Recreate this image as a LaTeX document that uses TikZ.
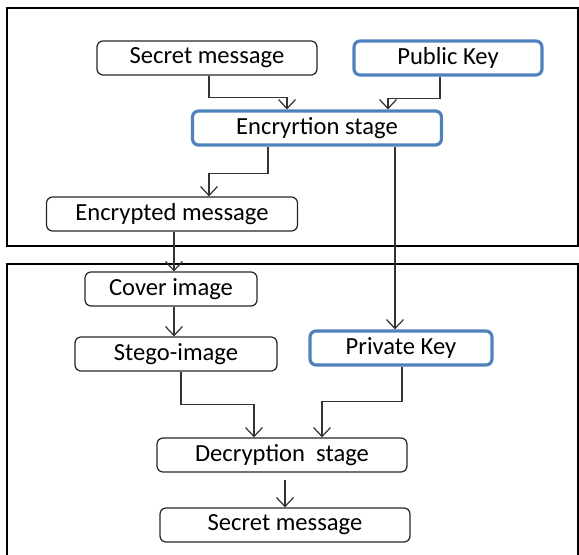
\documentclass[tikz,border=0pt]{standalone}
\usepackage{fontspec}
\setmainfont{Carlito}
\usepackage{tikz}
\usetikzlibrary{calc}
\usetikzlibrary{arrows.meta}
\definecolor{keyblue}{RGB}{79,129,189}

\begin{document}
\begin{tikzpicture}[x=0.02cm, y=-0.02cm,
		box/.style={draw=black!85, rounded corners=0.12cm, line width=0.7pt, minimum height=0.68cm, font=\fontsize{14}{16}\selectfont, inner sep=0pt},
		keybox/.style={box, draw=keyblue, line width=1.8pt},
		link/.style={draw=black!80, line width=0.7pt, -{Straight Barb[length=0.18cm,width=0.34cm]}}]
				\useasboundingbox (0,0) rectangle (579,555);
				\clip (0,0) rectangle (579,555);
				
				% the two frames
				\draw[line width=0.6pt] (7,8) rectangle (578,246);
				\draw[line width=0.6pt] (7,565) -- (7,264) -- (578,264) -- (578,565);
				
				\node[box, minimum width=4.4cm] (S) at (207,58) {Secret message};
				\node[keybox, minimum width=3.76cm] (PU) at (448,58) {Public Key};
				\node[keybox, minimum width=4.98cm] (E) at (317,128) {Encryrtion stage};
				\node[box, minimum width=5.02cm] (EM) at (172,214) {Encrypted message};
				
				\node[box, minimum width=3.44cm] (C) at (171,289) {Cover image};
				\node[box, minimum width=4.04cm] (SI) at (176,354) {Stego-image};
				\node[keybox, minimum width=3.64cm] (PR) at (401,348) {Private Key};
				\node[box, minimum width=5cm] (D) at (282,455) {Decryption~ stage};
				\node[box, minimum width=5cm] (M) at (285,525) {Secret message};
				
				\draw[link] ($(S.south)+(2,0)$) -- ++(0,22) -| ($(E.north)+(-30,0)$);
				\draw[link] ($(PU.south)+(-8,0)$) -- ++(0,22) -| ($(E.north)+(71,0)$);
				\draw[link] ($(E.south)+(-49,0)$) -- ++(0,27) -| ($(EM.north)+(37,0)$);
				\draw[link] ($(EM.south)+(2,0)$) -- ($(C.north)+(3,0)$);
				\draw[link] ($(E.south)+(78,0)$) -- ($(PR.north)+(-6,0)$);
				\draw[link] ($(C.south)+(3,0)$) -- ($(SI.north)+(-2,0)$);
				\draw[link] ($(SI.south)+(5,0)$) -- ++(0,33) -| ($(D.north)+(-28,0)$);
				\draw[link] ($(PR.south)+(1,0)$) -- ++(0,35) -| ($(D.north)+(40,0)$);
				\draw[link] ($(D.south)+(3,7)$) -- (M.north);
			\end{tikzpicture}
\end{document}
